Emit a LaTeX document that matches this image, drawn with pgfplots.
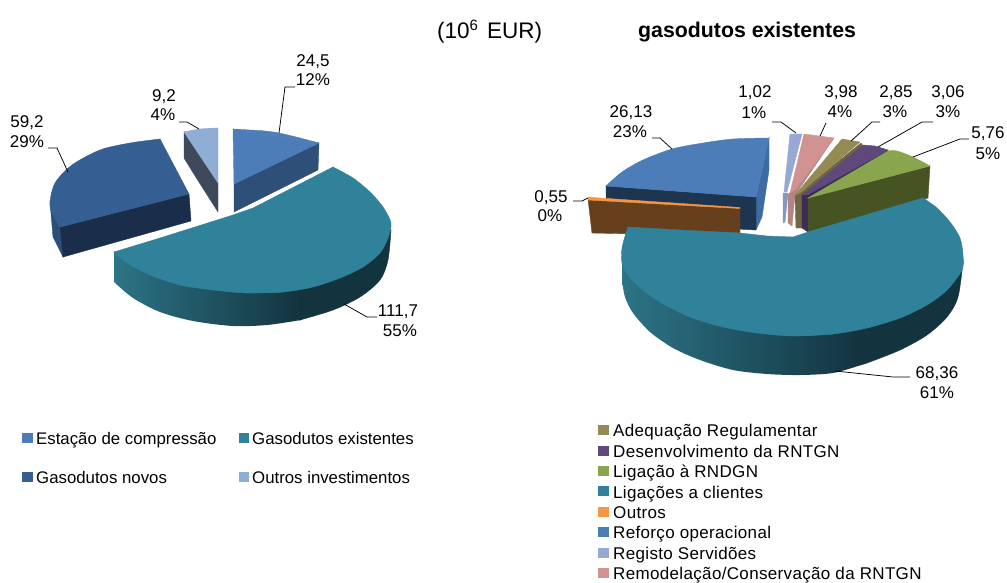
\documentclass[border=0pt]{standalone}
\usepackage{pgfplots}
\pgfplotsset{compat=1.18}
\usepackage{fontspec}
\setmainfont{Liberation Sans}
\newfontfamily\spaced[LetterSpace=2]{Liberation Sans}
\newcommand\poly[2]{\addplot[draw=#1,line width=0.4pt,fill=#1,no marks,forget plot] coordinates {#2} --cycle;}
\newcommand\sm[2]{\addplot[draw=#1,line width=0.4pt,fill=#1,smooth,no marks,forget plot] coordinates {#2} --cycle;}
\newcommand\shad[3]{\addplot[draw=none,left color=#1,right color=#2,no marks,forget plot] coordinates {#3};}
\newcommand\shadsm[3]{\addplot[draw=none,left color=#1,right color=#2,smooth,no marks,forget plot] coordinates {#3};}
\newcommand\lead[1]{\addplot[black,line width=0.75pt,no marks,forget plot] coordinates {#1};}
\newcommand\txt[3]{\node[anchor=base,inner sep=0pt,font=\fontsize{17}{20}\selectfont] at (axis cs:#1,#2) {#3};}
\newcommand\ltxt[3]{\node[anchor=base west,inner sep=0pt,font=\fontsize{16.8}{20}\selectfont] at (axis cs:#1,#2) {#3};}
\newcommand\rtxt[3]{\node[anchor=base west,inner sep=0pt,font=\spaced\fontsize{17}{20}\selectfont] at (axis cs:#1,#2) {#3};}
\definecolor{cBlue}{HTML}{4C7DB8}
\definecolor{cBlueW}{HTML}{2E4F78}
\definecolor{cNavy}{HTML}{355E92}
\definecolor{cNavyW}{HTML}{1A2E4C}
\definecolor{cNavyL}{HTML}{2D4F77}
\definecolor{cLight}{HTML}{8FADD5}
\definecolor{cLightW}{HTML}{3E4A5C}
\definecolor{cTeal}{HTML}{2F829A}
\definecolor{cTealL}{HTML}{2C7486}
\definecolor{cTealD}{HTML}{13343F}
\definecolor{cGreen}{HTML}{89A54E}
\definecolor{cGreenW}{HTML}{465424}
\definecolor{cPurple}{HTML}{5F497A}
\definecolor{cPurpleW}{HTML}{3D2C55}
\definecolor{cOlive}{HTML}{948A54}
\definecolor{cOliveW}{HTML}{6D6640}
\definecolor{cPink}{HTML}{D09391}
\definecolor{cPinkW}{HTML}{B58382}
\definecolor{cSrv}{HTML}{95A9D3}
\definecolor{cSrvW}{HTML}{8598BF}
\definecolor{cOrange}{HTML}{F79646}
\definecolor{cBrown}{HTML}{66401C}
\definecolor{cRefW}{HTML}{1E3550}
\definecolor{cRefS}{HTML}{3D6CA2}
\begin{document}
\begin{tikzpicture}
\useasboundingbox (0,0) rectangle (1007pt,583pt);
\begin{axis}[at={(0,0)},anchor=south west,width=1007pt,height=583pt,scale only axis,
  xmin=0,xmax=1007,ymin=0,ymax=583,y dir=reverse,axis lines=none,clip=false]
% ---- left pie
\poly{cNavyL}{(50,202)(60,227)(63,257)(53,237)}
\poly{cNavyW}{(60,227)(189,194)(191,221)(63,257)}
\sm{cNavy}{(160,139)(130,143)(100,150)(72,165)(55,183)(50,202)(52,213)(60,227)}
\poly{cNavy}{(160,139)(60,227)(189,194)}
\poly{cLightW}{(184,132)(218,183)(218,212)(197,179)(184,158)}
\sm{cLight}{(184,132)(200,129)(218,128)}
\poly{cLight}{(184,132)(218,128)(218,183)}
\poly{cBlueW}{(319,143)(318,170)(234,212)(234,184)}
\sm{cBlue}{(233,129)(250,130)(265,131)(279,133)(300,138)(319,143)}
\poly{cBlue}{(233,129)(319,143)(234,184)}
\shad{cTealL}{cTealD}{(114,252)(114,282)(200,310)(301,320)(301,250)}
\shadsm{cTealL}{cTealD}{(114,282)(133,298)(160,312)(193,321)(233,326)(267,325)(301,320)}
\sm{cTealD}{(300,320)(333,310)(360,297)(380,280)(388,260)(391,230)}
\poly{cTealD}{(300,250)(300,320)(391,230)}
\sm{cTeal}{(333,167)(353,178)(370,192)(383,207)(391,223)(388,238)(380,253)(363,267)(340,278)(313,287)(283,292)(247,293)}
\sm{cTeal}{(283,292)(247,293)(213,290)(180,285)(150,275)(127,263)(114,252)}
\poly{cTeal}{(333,167)(283,292)(114,252)(160,238)(233,215)(253,208)}
% ---- right pie
\poly{cRefS}{(769,138)(769,170)(762,217)(756,230)(756,197)}
\poly{cRefW}{(606,186)(756,197)(756,230)(606,222)}
\sm{cBlue}{(769,138)(733,139)(703,143)(672,149)(643,160)(622,172)(606,186)}
\poly{cBlue}{(769,138)(606,186)(756,197)}
\poly{cBrown}{(588,199)(592,233)(740,236)(740,208)}
\poly{cOrange}{(588,197)(600,198)(740,207.5)(740,208.5)(588,200)}
\poly{cSrvW}{(783,193)(783,223)(785,222)(788,193)}
\poly{cSrv}{(784,192)(790,134)(802,134)(787,192)}
\poly{cPinkW}{(788,195)(788,223)(792,226)(795,195)(834,138)(800,180)}
\poly{cPink}{(790,193)(804,134)(834,138)(796,189)}
\poly{cOliveW}{(795,196)(796,228)(802,228)(802,197)(863,146)(861,143)}
\poly{cOlive}{(795,195)(842,139)(860,142)(800,193)}
\poly{cPurpleW}{(802,195)(802,228)(808,232)(808,198)(887,155)(888,150)}
\poly{cPurple}{(802,195)(863,145)(875,146)(888,150)(807,195)}
\poly{cGreenW}{(808,198)(930,166)(928,198)(808,232)}
\sm{cGreen}{(888,151)(897,151)(913,157)(930,166)}
\poly{cGreen}{(808,198)(888,151)(930,166)}
\shad{cTealL}{cTealD}{(622,255)(622,280)(730,360)(861,365)(861,300)}
\shadsm{cTealL}{cTealD}{(622,280)(625,297)(633,313)(650,332)(673,348)(700,360)(733,370)(767,374)(800,375)(833,373)(861,365)}
\sm{cTealD}{(860,365)(867,363)(900,350)(927,335)(947,317)(958,297)(963,262)}
\poly{cTealD}{(860,300)(860,365)(963,262)}
\sm{cTeal}{(923,198)(937,208)(950,222)(960,238)(963,255)(962,270)(947,290)(927,305)(900,318)(867,328)(833,334)(793,336)}
\sm{cTeal}{(833,334)(793,336)(757,333)(723,327)(690,317)(660,302)(637,285)(623,267)(622,248)(628,227)}
\poly{cTeal}{(923,198)(833,334)(628,227)(680,230)(740,233)(767,236)(793,237)(808,232)}
% ---- leaders
\lead{(279,133)(285,87)(295,87)}
\lead{(179,122)(187,122)(199,129)}
\lead{(48,148)(57,148)(68,172)}
\lead{(344,304)(367,317)(377,317)}
\lead{(652,138)(660,138)(672,149)}
\lead{(772,122)(781,122)(796,133)}
\lead{(826,123)(820,136)}
\lead{(880,122)(872,122)(851,141)}
\lead{(933,122)(922,122)(878,147)}
\lead{(969,139)(960,139)(913,157)}
\lead{(573,201)(582,201)(588,198)}
\lead{(835,371)(893,377)(910,377)}
% ---- legend swatches
\poly{cBlue}{(22,433)(32,433)(32,442)(22,442)}
\poly{cTeal}{(239,433)(248,433)(248,442)(239,442)}
\poly{cNavy}{(22,472)(32,472)(32,481)(22,481)}
\poly{cLight}{(239,472)(248,472)(248,481)(239,481)}
\poly{cOlive}{(598,425)(608,425)(608,434)(598,434)}
\poly{cPurple}{(598,446)(608,446)(608,455)(598,455)}
\poly{cGreen}{(598,466)(608,466)(608,475)(598,475)}
\poly{cTeal}{(598,486)(608,486)(608,495)(598,495)}
\poly{cOrange}{(598,507)(608,507)(608,516)(598,516)}
\poly{cBlue}{(598,527)(608,527)(608,536)(598,536)}
\poly{cSrv}{(598,548)(608,548)(608,557)(598,557)}
\poly{cPink}{(598,568)(608,568)(608,577)(598,577)}
% ---- labels
\txt{313}{67}{24,5}\txt{313}{86}{12\%}
\txt{164}{102}{9,2}\txt{163}{121}{4\%}
\txt{27}{128}{59,2}\txt{27}{148}{29\%}
\txt{398}{316}{111,7}\txt{400}{336}{55\%}
\txt{631}{118}{26,13}\txt{630}{138}{23\%}
\txt{755}{98}{1,02}\txt{754}{119}{1\%}
\txt{841}{98}{3,98}\txt{840}{118}{4\%}
\txt{896}{98}{2,85}\txt{895}{118}{3\%}
\txt{948}{98}{3,06}\txt{948}{118}{3\%}
\txt{988}{139}{5,76}\txt{988}{160}{5\%}
\txt{551}{202}{0,55}\txt{550}{222}{0\%}
\txt{937}{378}{68,36}\txt{937}{398}{61\%}
\node[anchor=base west,inner sep=0pt,font=\fontsize{22.5}{26}\selectfont] at (axis cs:437,39) {(10\raisebox{8pt}{\fontsize{15}{15}\selectfont 6}\hspace{9pt}EUR)};
\node[anchor=base west,inner sep=0pt,font=\fontsize{21.3}{24}\selectfont\bfseries] at (axis cs:638,38) {gasodutos existentes};
\ltxt{36}{444}{Estação de compressão}
\ltxt{252}{444}{Gasodutos existentes}
\ltxt{36}{483}{Gasodutos novos}
\ltxt{252}{483}{Outros investimentos}
\rtxt{613}{436}{Adequação Regulamentar}
\rtxt{613}{457}{Desenvolvimento da RNTGN}
\rtxt{613}{477}{Ligação à RNDGN}
\rtxt{613}{498}{Ligações a clientes}
\rtxt{613}{518}{Outros}
\rtxt{613}{538}{Reforço operacional}
\rtxt{613}{559}{Registo Servidões}
\rtxt{613}{579}{Remodelação/Conservação da RNTGN}
\end{axis}
\end{tikzpicture}
\end{document}
